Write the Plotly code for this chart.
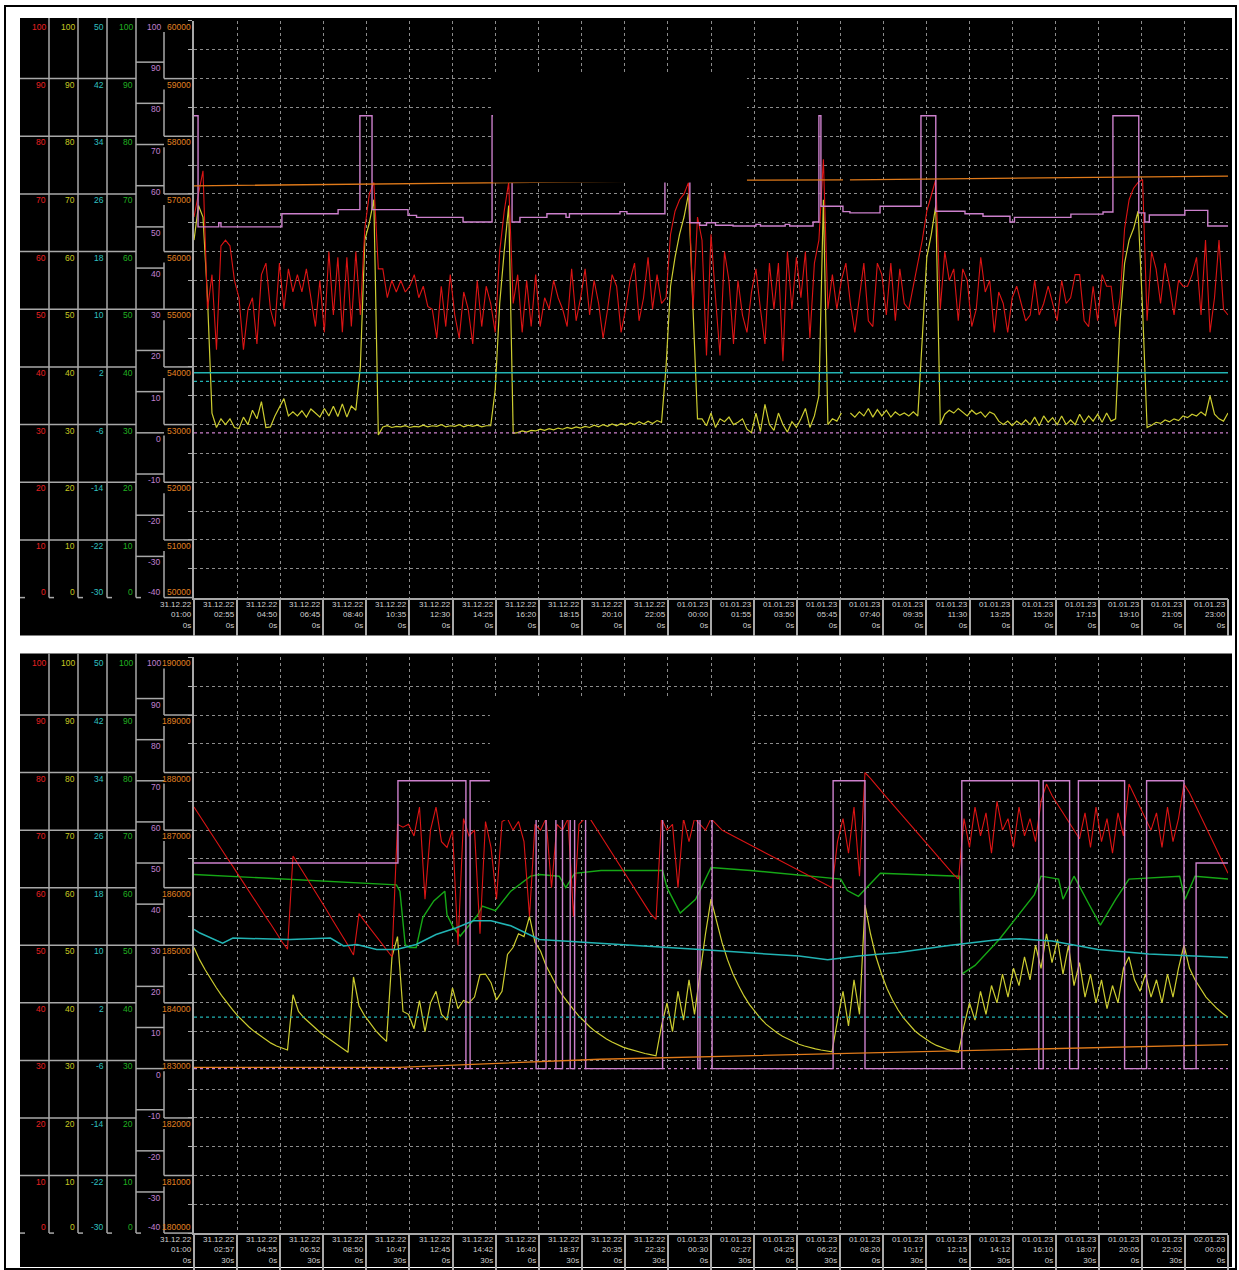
import plotly.graph_objects as go

W, H = 1239, 1270

# ---------------- time-axis labels ----------------
TOP_TICK_STEP_H = 115 / 60
TOP_DATES = ["31.12.22"] * 12 + ["01.01.23"] * 13
TOP_TIMES = ["01:00", "02:55", "04:50", "06:45", "08:40", "10:35", "12:30", "14:25", "16:20", "18:15",
             "20:10", "22:05", "00:00", "01:55", "03:50", "05:45", "07:40", "09:35", "11:30", "13:25",
             "15:20", "17:15", "19:10", "21:05", "23:00"]
TOP_SECS = ["0s"] * 25

BOT_TICK_STEP_H = 117.5 / 60
BOT_DATES = ["31.12.22"] * 12 + ["01.01.23"] * 12 + ["02.01.23"]
BOT_TIMES = ["01:00", "02:57", "04:55", "06:52", "08:50", "10:47", "12:45", "14:42", "16:40", "18:37",
             "20:35", "22:32", "00:30", "02:27", "04:25", "06:22", "08:20", "10:17", "12:15", "14:12",
             "16:10", "18:07", "20:05", "22:02", "00:00"]
BOT_SECS = ["0s", "30s"] * 12 + ["0s"]

# ---------------- left scale labels ----------------
RED_TICKS = [0, 10, 20, 30, 40, 50, 60, 70, 80, 90, 100]
YEL_TICKS = [0, 10, 20, 30, 40, 50, 60, 70, 80, 90, 100]
CYA_TICKS = [-30, -22, -14, -6, 2, 10, 18, 26, 34, 42, 50]
GRN_TICKS = [0, 10, 20, 30, 40, 50, 60, 70, 80, 90, 100]
PUR_TICKS = [-40, -30, -20, -10, 0, 10, 20, 30, 40, 50, 60, 70, 80, 90, 100]
ORA_TOP_TICKS = [50000, 51000, 52000, 53000, 54000, 55000, 56000, 57000, 58000, 59000, 60000]
ORA_BOT_TICKS = [180000, 181000, 182000, 183000, 184000, 185000, 186000, 187000, 188000, 189000, 190000]

# ---------------- top panel data (hours since 31.12.22 01:00) ----------------
TOP_STEP_H = 0.2
RED_TOP = [66, 70, 74, 50, 56, 43,
           61, 62, 61, 55,
           52, 43, 50, 52, 44, 56, 58, 50, 47, 58, 50, 57, 53, 56, 53, 57, 52, 47,
           55, 46, 60, 49, 59, 46, 59, 47, 60,
           49, 64, 70, 72, 57,
           57, 52, 55, 53, 55, 53, 54, 56, 52, 54, 50.5, 50, 45, 54, 47, 56, 49, 45, 53, 50, 44, 55, 47, 54,
           51, 46, 60, 67, 72, 51,
           56, 46, 55, 47, 56, 47, 52, 50, 55, 52, 50, 47, 57, 48, 52, 57, 49, 55, 51, 45, 50, 56, 54, 46,
           50, 55, 58, 48, 52, 59, 50, 56, 51,
           52, 63, 67, 69, 70, 72, 50, 66,
           62, 42, 63, 52, 42, 60, 55, 44, 55, 49, 46, 53, 57, 50, 44, 58, 50, 58, 41, 60, 50, 59, 52, 60, 45,
           58, 62, 76, 50,
           56, 50, 55, 58, 51, 46, 52, 58, 48, 47, 58, 56, 49, 58, 48, 57, 51, 50, 54,
           58, 62, 67, 70, 72.5, 50,
           60, 55, 57, 48, 57, 55, 47, 50, 59, 53, 55, 46, 53, 51, 46, 52, 54, 51, 48, 49, 55, 49, 51, 54,
           51, 48, 55, 51, 52, 56, 56, 48, 47, 54, 48, 56, 54, 54,
           47, 52, 64, 69, 71, 72, 72.5, 48,
           60, 57, 51, 58, 54, 49, 55, 54, 54, 56, 59, 49, 62, 46, 52, 62, 50, 49]
YEL_TOP = [62, 68, 66, 52, 32, 29.5,
           31, 30, 31, 29.5, 29.3, 31.3, 30, 32.5, 31, 34, 29.5, 29.6, 31.5, 33, 34.5, 31.5, 32.2, 31.5,
           32.4, 31.3, 32.7, 32, 31.3, 32.8, 31.5, 33.2, 31.4, 33.6, 31.3, 33.2, 32.5,
           40, 62, 65, 69, 28.2,
           29.6, 29.8, 29.5, 29.7, 29.6, 29.8, 29.5, 29.7, 29.6, 29.9, 29.6, 29.8, 29.7, 30.0, 29.6, 29.8,
           29.7, 30.0, 29.6, 29.9, 29.7, 29.9, 29.6, 29.8,
           29.8, 36, 51, 60, 68, 28.5,
           28.6, 28.9, 28.7, 29.0, 28.9, 29.2, 29.0, 29.3, 29.1, 29.4, 29.2, 29.5, 29.3, 29.6, 29.4, 29.7,
           29.5, 29.9, 29.6, 30.0, 29.7, 30.1, 29.8, 30.2, 29.9, 30.3, 30.0, 30.5, 30.1, 30.6, 30.2, 30.7, 30.4,
           40, 54, 59, 63, 66, 70, 50, 31,
           31, 29.8, 32, 29.5, 31, 30.5, 31.3, 30, 30.4, 31, 29.2, 28.6, 32, 28.8, 33.5, 30, 29, 32, 30,
           28.7, 30.5, 29.5, 31, 32.8, 29.5, 31.5,
           35, 69, 30,
           31, 30.6, 32, None, 32, 31.3, 32.2, 31.5, 32.8, 31.3, 32.6, 31.5, 32.5, 31.3, 32.2, 31.6, 32,
           31.5, 32.2, 31.5,
           45, 59, 63, 68, 30,
           31.8, 32.5, 32, 32.8, 32.2, 31.5, 32.5, 31.8, 32.2, 31.3, 32.2, 31.8, 30.6, 30, 30.6, 29.8, 30.6,
           30, 30.8, 30, 31.3, 29.8, 31.5, 30.4, 31.2, 30, 31.5, 30, 30.8, 30, 31.8, 30.4, 31.5, 30.6, 31.8,
           30.4, 32, 30.6,
           31, 48, 58, 62, 64, 67, 50, 29.5,
           29.9, 30.4, 30.2, 30.8, 30.5, 31, 30.7, 31.5, 31.2, 31.8, 31.5, 32.2, 31.6, 35, 31.8, 31, 30.6, 32]
PUR_TOP_T = [0, 0.18, 1.1, 1.2, 1.35, 3.91, 6.41, 7.38, 7.92, 9.52, 9.9, 10.19, 11.97, 13.26, 14.15,
             14.5, 15.7, 16.55, 16.7, 18.95, 19.26, 20.95, 22.06, 22.5, 22.8, 23.2, 23.98, 25.0, 25.2, 26.3,
             26.5, 27.54, 27.8, 27.89, 28.87, 29.18, 30.52, 32.34, 33.0, 34.3, 35.1, 36.3, 36.5, 39.01,
             40.44, 40.88, 42.03, 42.3, 42.5, 44.08, 45.1, 46.0]
PUR_TOP_V = [77, 50, 51, 50, 50, 53.2, 54.2, 77, 54.2, 52.8, 52.3, 52.3, 51.2, 77, 51.2, 52.3, 53.2,
             52.3, 53.2, 53.7, 53.2, 77, 51, 50.4, 51, 50.4, 50.2, 50.6, 50.2, 50.6, 50.2, 51.2, 77, 55,
             53.7, 53.4, 55, 77, 53.8, 53.2, 52.6, 51.2, 52.3, 53.1, 53.6, 77, 53.4, 51.2, 52.9, 54.0,
             50.2, 50.2]
ORA_TOP_T = [0, 13.3, 24.6, 28.87, 28.9, 29.18, 46]
ORA_TOP_V = [57140, 57200, 57240, 57245, None, 57245, 57310]
CYA_TOP_T = [0, 28.87, 28.9, 29.18, 46]
CYA_TOP_V = [1.2, 1.2, None, 1.2, 1.2]

# ---------------- bottom panel data ----------------
BOT_STEP_H = 0.25
RED_BOT = [74, 72.5, 71, 69.6, 68, 66.7, 65.2, 63.8, 62.3, 60.8, 59.4, 58, 56.4, 55, 53.6, 52, 50.6, 49.3,
           65.5, 64, 62.5, 61, 59.4, 57.8, 56.3, 54.7, 53.2, 51.6, 50, 48.3,
           55.5, 54.2, 53, 51.7, 50.4, 49.2, 48,
           71, 70.5, 71, 69, 74, 58, 70, 74, 68, 67, 70, 50, 72, 69, 70, 52, 71.5, 67, 58, 71.5, 72, 70,
           71.5, 68, 55, 71, 70, 72, 60, 71, 70, 72, 55, 71, 72,
           72, 70.5, 69, 67.5, 66, 64.5, 63, 61.5, 60, 58.5, 57, 55.5, 54.5,
           72, 70, 71, 60, 72, 68, 72, 71, 70, 72,
           71, 70, 69.5, 69, 68.5, 68, 67.5, 67, 66.5, 66, 65.5, 65, 64.5, 64, 63.5, 63, 62.5, 62, 61.5, 61,
           60.5, 60,
           68, 72, 66, 74, 62, 80,
           79, 77.8, 76.7, 75.6, 74.5, 73.4, 72.3, 71.2, 70.1, 69, 67.9, 66.8, 65.7, 64.6, 63.5, 62.4, 61.5,
           72, 67, 74, 69, 73, 66, 75, 70, 72, 67, 74, 69, 72, 68, 75, 78, 76, 74.5, 73, 71.5, 70, 68.5, 73,
           67, 74, 68, 72, 66, 73, 69, 78, 76, 74, 72, 70, 73, 67, 74, 68, 72, 78, 76.5, 74.5, 72.5, 70.5,
           68.5, 66.5, 64.5, 62.5]
YEL_BOT = [49.6, 47.5, 45.8, 44.2, 42.7, 41.3, 40.0, 38.8, 37.7, 36.7, 35.8, 35.0, 34.3, 33.6, 33.0, 32.5,
           32.1, 31.8,
           41.4,
           38.5, 37.4, 36.5, 35.6, 34.8, 34.1, 33.4, 32.7, 32.0, 31.4,
           44.5,
           39.5, 37.8, 36.4, 35.2, 34.2, 33.3,
           48, 51.5, 38.5,
           38, 35.5, 40.4, 35, 40, 42, 38, 37, 42.6, 39, 40.4, 40, 41, 44.9, 45, 43.5, 40.5, 42, 48.4, 49.6,
           52, 51.5, 55, 50.5, 49,
           46.5, 44.5, 42.8, 41.3, 40, 38.8, 37.7, 36.7, 35.8, 35, 34.3, 33.7, 33.2, 32.7, 32.3, 32, 31.7,
           31.4, 31.2, 31, 30.8,
           36, 40, 35, 42, 37, 44, 38, 45, 52, 58,
           54, 50.5, 47.5, 45, 43, 41.2, 39.7, 38.4, 37.3, 36.3, 35.5, 34.8, 34.2, 33.7, 33.2, 32.8, 32.5,
           32.2, 32, 31.8, 31.6, 31.5,
           37, 42, 36, 44, 38, 57,
           52, 48, 45, 42.5, 40.5, 38.8, 37.4, 36.2, 35.2, 34.4, 33.7, 33.1, 32.6, 32.2, 31.9, 31.6, 31.4,
           36, 40, 37, 42, 38, 43, 40, 45, 41, 46, 43, 48, 44, 50, 46, 52, 47, 51, 45, 50, 43, 47, 41, 45,
           40, 44, 39, 43, 40, 46, 48, 44, 42, 45, 41, 44, 40, 45, 41, 46, 50, 46, 44, 42.5, 41, 40, 39,
           38.2, 37.5]
PUR_BOT_T = [0, 9.27, 12.36, 12.55, 15.55, 16.0, 16.45, 16.75, 17.1, 17.3, 17.8, 21.3, 22.9, 23.0, 23.55,
             29.05, 30.5, 34.9, 38.4, 38.6, 39.8, 40.2, 42.3, 43.3, 45.0, 45.55, 47]
PUR_BOT_V = [50, 70, 0, 70, 0, 70, 0, 70, 0, 70, 0, 70, 0, 70, 0, 70, 0, 70, 0, 70, 0, 70, 0, 70, 0, 50, 50]
GRN_BOT_T = [0, 4.36, 9.2, 9.36, 9.6, 9.8, 10.1, 10.4, 10.9, 11.4, 11.5, 11.8, 12.1, 12.4, 12.9, 13.1,
             13.7, 14.4, 15.0, 15.3, 15.7, 16.6, 16.9, 17.3, 18.5, 21.3, 21.5, 22.1, 22.8, 23.5, 25.3, 29.4,
             29.7, 30.2, 31.2, 34.8, 34.9, 35.5, 36.6, 38.2, 38.5, 39.3, 39.5, 40.0, 40.7, 41.2, 41.9, 42.5,
             44.8, 45.05, 45.5, 47]
GRN_BOT_V = [62.3, 61.4, 60.5, 59.4, 50.1, 49.6, 49.6, 54.8, 57.7, 59.4, 55.3, 53.0, 51.6, 53.0, 55.3,
             56.8, 56.0, 59.4, 61.2, 62.0, 62.3, 62, 60, 62.5, 63, 63, 60, 55.6, 58, 63.5, 63, 61.5, 59.5,
             58.5, 62.5, 62, 45, 46.5, 51, 58.8, 62, 61.5, 58, 62, 57, 53.5, 58, 61.5, 62, 58, 62, 61.5]
CYA_BOT_T = [0, 0.27, 1.3, 1.77, 4.36, 6.2, 6.8, 7.4, 8.3, 9.2, 10.1, 11.0, 11.9, 12.7, 13.5, 14.4, 15.7,
             18.5, 23.0, 27.5, 28.8, 30.2, 32.0, 34.4, 36.6, 37.5, 39.0, 41.1, 43.4, 47]
CYA_BOT_V = [12.2, 11.7, 10.3, 11.0, 10.8, 11.0, 9.9, 10.1, 9.4, 9.4, 10.1, 11.5, 12.4, 13.4, 13.4, 12.7,
             10.8, 10.3, 9.4, 8.5, 8.0, 8.5, 9.0, 10.0, 10.8, 10.9, 10.6, 9.4, 8.8, 8.3]
ORA_BOT_T = [0, 9.3, 18.45, 27.5, 36.6, 47]
ORA_BOT_V = [182880, 182880, 183020, 183100, 183190, 183275]

# ---------------- styling / geometry ----------------
C_RED, C_YEL, C_CYA, C_GRN, C_PUR, C_ORA = "#dc1414", "#cccc30", "#22b4b4", "#16a816", "#cc80cc", "#e07a1a"
L_RED, L_YEL, L_CYA, L_GRN, L_PUR, L_ORA = "#e82020", "#c8c820", "#30c0c0", "#20b020", "#c080d0", "#e08020"
GRID = "#8c8c8c"
FRAME = "#a8a8a8"
LBL = "#d2d2d2"
FONT = "Liberation Sans Narrow, Liberation Sans, Arial, sans-serif"

PLOT_X0, PLOT_X1 = 194, 1228
TOP_PLOT, BOT_PLOT = (21, 599), (659, 1236)
TOP_PANEL, BOT_PANEL = (18, 637), (655, 1270)


def px(x):
    return x / W


def py(y):
    return 1 - y / H


fig = go.Figure()


def add(x, y, color, xa, ya, width=1.2, dash=None, shape="linear"):
    fig.add_trace(go.Scatter(x=x, y=y, mode="lines", xaxis=xa, yaxis=ya, connectgaps=False,
                             line=dict(color=color, width=width, dash=dash, shape=shape),
                             hoverinfo="skip", showlegend=False))


# top panel traces
t_top = [i * TOP_STEP_H for i in range(len(RED_TOP))]
ty_top = [i * TOP_STEP_H for i in range(len(YEL_TOP))]
add([0, 46], [0, 0], C_CYA, "x", "y5", 1.2, "dot")
add([0, 46], [0, 0], C_PUR, "x", "y3", 1.2, "dot")
add(ORA_TOP_T, ORA_TOP_V, C_ORA, "x", "y4", 1.3)
add(CYA_TOP_T, CYA_TOP_V, C_CYA, "x", "y5", 1.5)
add(ty_top, YEL_TOP, C_YEL, "x", "y", 1.2)
add(t_top, RED_TOP, C_RED, "x", "y", 1.1)
add(PUR_TOP_T, PUR_TOP_V, C_PUR, "x", "y3", 1.4, None, "hv")

# bottom panel traces
t_bot = [i * BOT_STEP_H for i in range(len(RED_BOT))]
ty_bot = [i * BOT_STEP_H for i in range(len(YEL_BOT))]
add([0, 47], [0, 0], C_CYA, "x2", "y8", 1.2, "dot")
add([0, 47], [0, 0], C_PUR, "x2", "y6", 1.2, "dot")
add(ORA_BOT_T, ORA_BOT_V, C_ORA, "x2", "y7", 1.3)
add(CYA_BOT_T, CYA_BOT_V, C_CYA, "x2", "y8", 1.5)
add(GRN_BOT_T, GRN_BOT_V, C_GRN, "x2", "y2", 1.4)
add(ty_bot, YEL_BOT, C_YEL, "x2", "y2", 1.2)
add(t_bot, RED_BOT, C_RED, "x2", "y2", 1.1)
add(PUR_BOT_T, PUR_BOT_V, C_PUR, "x2", "y6", 1.4, None, "hv")

shapes, anns = [], []

# outer frame and black panels
shapes.append(dict(type="rect", xref="paper", yref="paper", x0=px(5), x1=px(1236), y0=py(1272), y1=py(6),
                   line=dict(color="black", width=2), fillcolor="rgba(0,0,0,0)", layer="below"))
for (p0, p1) in (TOP_PANEL, BOT_PANEL):
    shapes.append(dict(type="rect", xref="paper", yref="paper", x0=px(20), x1=px(1232), y0=py(p1), y1=py(p0),
                       line=dict(width=0), fillcolor="black", layer="below"))


def hline(x0, x1, y):
    shapes.append(dict(type="line", xref="paper", yref="paper", x0=px(x0), x1=px(x1), y0=py(y), y1=py(y),
                       line=dict(color=FRAME, width=1.5), layer="above"))


def vline(x, y0, y1):
    shapes.append(dict(type="line", xref="paper", yref="paper", x0=px(x), x1=px(x), y0=py(y0), y1=py(y1),
                       line=dict(color=FRAME, width=1.5), layer="above"))


def left_scales(plot, panel_top, ora_ticks):
    top, bot = plot
    ypx = lambda r: bot - r * (bot - top) / 100.0
    for xe in (49, 78, 107, 136):
        vline(xe, panel_top, bot)
    for r in range(10, 100, 10):
        hline(20, 136, ypx(r))
    for v in PUR_TICKS[1:-1]:
        hline(136, 164, ypx((v + 40) / 140 * 100))
    lo, hi = ora_ticks[0], ora_ticks[-1]
    rs = [(v - lo) / (hi - lo) * 100 for v in ora_ticks]
    for r in rs[1:-1]:
        hline(164, 194, ypx(r))
    for k in range(1, len(rs)):
        vline(164, ypx(rs[k]) + 11, ypx(rs[k - 1]))
    for xe in (20, 49, 78, 107, 136):
        hline(xe, xe + 5, bot)
    hline(164, 194, bot)
    cols = [(RED_TICKS, 0, 100, 47, L_RED), (YEL_TICKS, 0, 100, 76, L_YEL), (CYA_TICKS, -30, 50, 105, L_CYA),
            (GRN_TICKS, 0, 100, 134, L_GRN), (PUR_TICKS, -40, 100, 162, L_PUR), (ora_ticks, lo, hi, 192, L_ORA)]
    for ticks, a, b, xr, col in cols:
        for v in ticks:
            r = (v - a) / (b - a) * 100
            y = ypx(r)
            anns.append(dict(xref="paper", yref="paper", x=px(xr), y=py(y), text=str(v), showarrow=False,
                             xanchor="right", yanchor="bottom" if r < 0.01 else "top",
                             font=dict(family=FONT, size=8.5, color=col), borderpad=0))


left_scales(TOP_PLOT, TOP_PANEL[0], ORA_TOP_TICKS)
left_scales(BOT_PLOT, BOT_PANEL[0], ORA_BOT_TICKS)

# time labels
for k in range(25):
    anns.append(dict(xref="x", yref="paper", x=k * TOP_TICK_STEP_H, y=py(TOP_PLOT[1] + 1),
                     text=f"{TOP_DATES[k]}<br>{TOP_TIMES[k]}<br>{TOP_SECS[k]}", showarrow=False,
                     xanchor="right", yanchor="top", align="right", xshift=-1, borderpad=0,
                     font=dict(family=FONT, size=8, color=LBL)))
    anns.append(dict(xref="x2", yref="paper", x=k * BOT_TICK_STEP_H, y=py(BOT_PLOT[1] + 1),
                     text=f"{BOT_DATES[k]}<br>{BOT_TIMES[k]}<br>{BOT_SECS[k]}", showarrow=False,
                     xanchor="right", yanchor="top", align="right", xshift=-1, borderpad=0,
                     font=dict(family=FONT, size=8, color=LBL)))

# redacted (blacked-out) regions of the original screenshot
shapes.append(dict(type="rect", xref="x", yref="y", x0=13.3, x1=24.6, y0=72, y1=91,
                   fillcolor="black", line=dict(width=0), layer="above"))
shapes.append(dict(type="rect", xref="x2", yref="y2", x0=13.45, x1=25.27, y0=71.75, y1=92.9,
                   fillcolor="black", line=dict(width=0), layer="above"))

XD = [px(PLOT_X0), px(PLOT_X1)]


def xax(rng, step, anchor):
    return dict(domain=XD, range=rng, anchor=anchor, tickvals=[k * step for k in range(25)],
                showticklabels=False, ticks="outside", ticklen=37, tickcolor=FRAME, tickwidth=1.5,
                showgrid=True, gridcolor=GRID, griddash="dot", gridwidth=1, zeroline=False,
                showline=True, linecolor=FRAME, linewidth=1.5, fixedrange=True)


def yax(plot, anchor):
    return dict(domain=[py(plot[1]), py(plot[0])], range=[0, 100], anchor=anchor, dtick=5,
                showticklabels=False, ticks="outside", ticklen=4, tickcolor=FRAME, showgrid=True,
                gridcolor=GRID, griddash="dot", gridwidth=1, zeroline=False, showline=True,
                linecolor=FRAME, linewidth=1.5, fixedrange=True)


def ov(over, anchor, rng):
    return dict(overlaying=over, anchor=anchor, range=rng, visible=False, showgrid=False, zeroline=False,
                fixedrange=True)


fig.update_layout(
    width=W, height=H, margin=dict(l=0, r=0, t=0, b=0), autosize=False,
    paper_bgcolor="white", plot_bgcolor="black", showlegend=False,
    xaxis=xax([0, 46], TOP_TICK_STEP_H, "y"),
    yaxis=yax(TOP_PLOT, "x"),
    yaxis3=ov("y", "x", [-40, 100]),
    yaxis4=ov("y", "x", [ORA_TOP_TICKS[0], ORA_TOP_TICKS[-1]]),
    yaxis5=ov("y", "x", [-30, 50]),
    xaxis2=xax([0, 47], BOT_TICK_STEP_H, "y2"),
    yaxis2=yax(BOT_PLOT, "x2"),
    yaxis6=ov("y2", "x2", [-40, 100]),
    yaxis7=ov("y2", "x2", [ORA_BOT_TICKS[0], ORA_BOT_TICKS[-1]]),
    yaxis8=ov("y2", "x2", [-30, 50]),
    shapes=shapes, annotations=anns,
)

fig.write_html("out.html", config={"displayModeBar": False},
               post_script="document.body.style.margin='0px';document.body.style.overflow='hidden';")
